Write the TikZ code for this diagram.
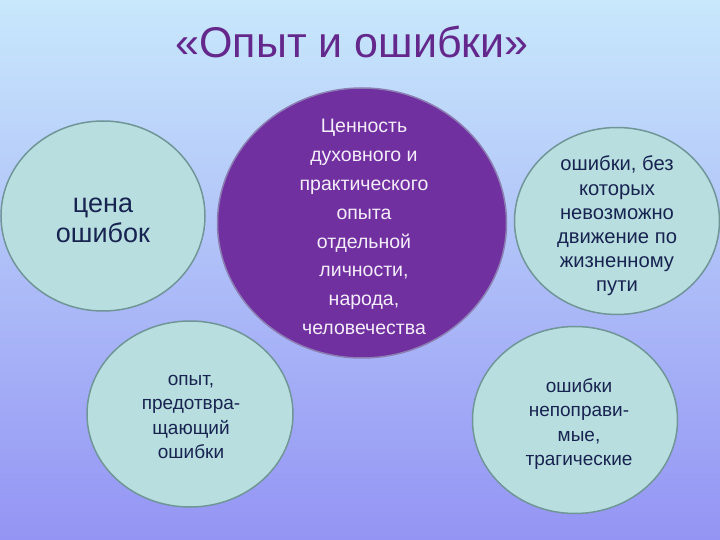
\documentclass[tikz,border=0pt]{standalone}
\usepackage{fontspec}
\setmainfont{Liberation Sans}
\usetikzlibrary{shapes.geometric}
\definecolor{bgtop}{RGB}{200,232,252}
\definecolor{bgbot}{RGB}{148,148,244}
\definecolor{cfill}{RGB}{184,222,224}
\definecolor{cline}{RGB}{112,150,152}
\definecolor{pfill}{RGB}{112,48,160}
\definecolor{pline}{RGB}{140,125,178}
\definecolor{ctext}{RGB}{24,36,80}
\definecolor{ttext}{RGB}{100,40,140}
\definecolor{ptext}{RGB}{245,238,250}
\tikzset{
  bubble/.style={ellipse, draw=cline, line width=1.5pt, fill=cfill,
    inner sep=0pt},
  bigbubble/.style={ellipse, draw=pline, line width=1.5pt, fill=pfill,
    inner sep=0pt},
  btext/.style={align=center, text=ctext, inner sep=0pt},
  ptxt/.style={align=center, text=ptext, inner sep=0pt},
}
\begin{document}
\begin{tikzpicture}[x=1pt,y=-1pt]
\shade[top color=bgtop, bottom color=bgbot] (0,0) rectangle (720,540);
\useasboundingbox (0,0) rectangle (720,540);
\node[font=\fontsize{43}{48}\selectfont, text=ttext] (title) at (352,42) {«Опыт и ошибки»};
% bubbles
\node[bubble, minimum width=204pt, minimum height=190pt] (cena) at (103,216) {};
\node[bigbubble, minimum width=289pt, minimum height=270pt] (center) at (362,223) {};
\node[bubble, minimum width=205pt, minimum height=187pt] (bez) at (617,221) {};
\node[bubble, minimum width=206pt, minimum height=186pt] (opyt) at (190,414) {};
\node[bubble, minimum width=205pt, minimum height=187pt] (tragic) at (575,420) {};
% texts
\node[btext, font=\fontsize{27}{30}\selectfont] (cenaT) at (103,220) {цена\\ошибок};
\node[ptxt, font=\fontsize{19.5}{28.9}\selectfont] (centerT) at (364,227)
  {Ценность\\духовного и\\практического\\опыта\\отдельной\\личности,\\народа,\\человечества};
\node[btext, font=\fontsize{20.2}{24.2}\selectfont] (bezT) at (617,226)
  {ошибки, без\\которых\\невозможно\\движение по\\жизненному\\пути};
\node[btext, font=\fontsize{19}{24.6}\selectfont] (opytT) at (191,417)
  {опыт,\\предотвра-\\щающий\\ошибки};
\node[btext, font=\fontsize{19}{24.6}\selectfont] (tragicT) at (579,424)
  {ошибки\\непоправи-\\мые,\\трагические};
\end{tikzpicture}
\end{document}
